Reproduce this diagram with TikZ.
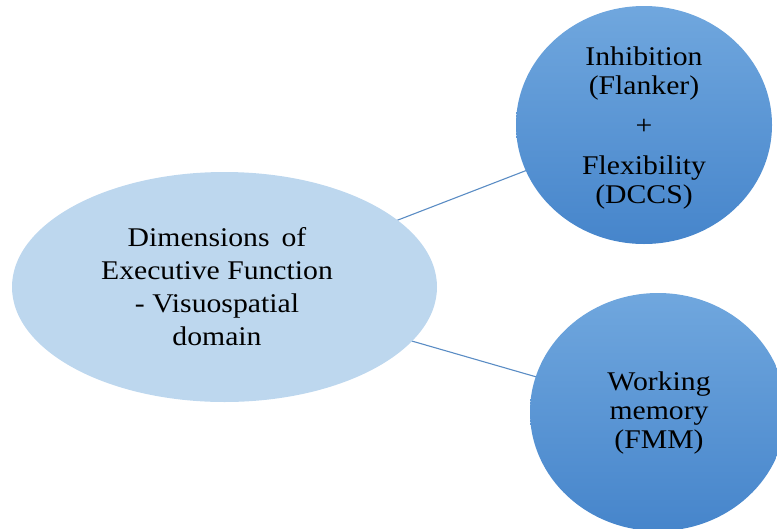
\documentclass[tikz,border=0pt]{standalone}
\usepackage{fontspec}
\setmainfont{Liberation Serif}[FakeStretch=1.1]
\usetikzlibrary{shapes.geometric,backgrounds}
\definecolor{ellfill}{HTML}{BDD7EE}
\definecolor{circtop}{HTML}{70A7DE}
\definecolor{circbot}{HTML}{4685CB}
\definecolor{linkcol}{HTML}{5A8CC4}
\tikzset{
  mainell/.style={ellipse, fill=ellfill, inner sep=0pt, minimum width=425pt, minimum height=230pt},
  bubble/.style={ellipse, top color=circtop, bottom color=circbot, inner sep=0pt,
    minimum width=256pt, minimum height=238pt},
  eltext/.style={align=center, text=black, inner sep=0pt, font=\fontsize{27}{33}\selectfont},
  bubtext/.style={align=center, text=black, inner sep=0pt, font=\fontsize{27}{29}\selectfont},
  link/.style={draw=linkcol, line width=1.1pt}
}
\begin{document}
\begin{tikzpicture}[x=1pt,y=-1pt]
\useasboundingbox (0,0) rectangle (777,528);
\node[mainell] (ef) at (224.5,287) {};
\node[bubble] (inh) at (644,125) {};
\node[bubble] (wm) at (658,412) {};
\node[eltext] (eft) at (217,287) {Dimensions\, of\\Executive Function\\- Visuospatial\\domain};
\node[bubtext] (inht) at (644,128) {Inhibition\\(Flanker)\\[11pt]+\\[11pt]Flexibility\\(DCCS)};
\node[bubtext] (wmt) at (659,413) {Working\\memory\\(FMM)};
\begin{scope}[on background layer]
\draw[link] (ef.center) -- (inh.center);
\draw[link] (ef.center) -- (wm.center);
\end{scope}
\end{tikzpicture}
\end{document}
